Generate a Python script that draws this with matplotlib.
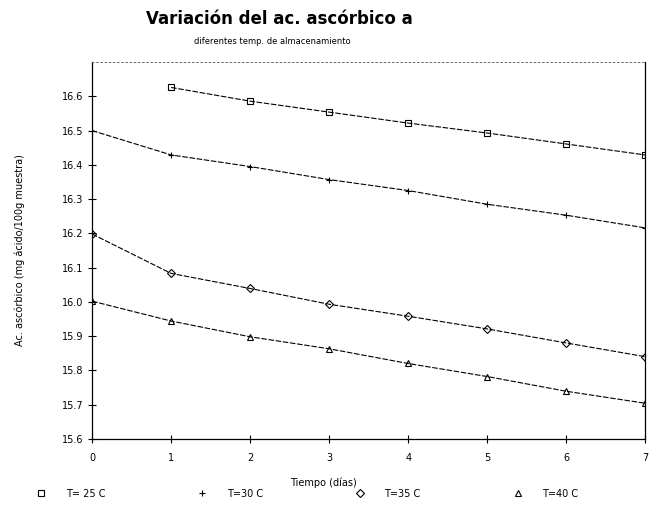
import matplotlib
matplotlib.use("Agg")
import matplotlib.pyplot as plt
from matplotlib.lines import Line2D

# ----------------------------
# Data
# ----------------------------
dias = [0, 1, 2, 3, 4, 5, 6, 7]

t25_dias = [1, 2, 3, 4, 5, 6, 7]
t25 = [16.626, 16.586, 16.554, 16.522, 16.493, 16.461, 16.429]
t30 = [16.50, 16.429, 16.395, 16.357, 16.325, 16.285, 16.253, 16.216]
t35 = [16.198, 16.083, 16.039, 15.993, 15.958, 15.921, 15.880, 15.840]
t40 = [16.002, 15.944, 15.898, 15.863, 15.820, 15.782, 15.739, 15.704]

etiquetas = ["T= 25 C", "T=30 C", "T=35 C", "T=40 C"]
marcadores = ["s", "+", "D", "^"]
y_ticks = [15.6, 15.7, 15.8, 15.9, 16.0, 16.1, 16.2, 16.3, 16.4, 16.5, 16.6]

# ----------------------------
# Figure
# ----------------------------
fig = plt.figure(figsize=(6.49, 5.05), dpi=100)
ax = fig.add_axes([0.142, 0.131, 0.852, 0.746])

series = [(t25_dias, t25), (dias, t30), (dias, t35), (dias, t40)]
for (xs, ys), m in zip(series, marcadores):
    ax.plot(xs, ys, color="black", lw=0.8, linestyle=(0, (5, 1.5)),
            marker=m, markersize=4.5, markerfacecolor="none",
            markeredgecolor="black", markeredgewidth=0.8)

ax.set_xlim(0, 7)
ax.set_ylim(15.6, 16.7)
ax.set_xticks(dias)
ax.set_yticks(y_ticks)
ax.set_yticklabels([f"{v:.1f}" for v in y_ticks])
ax.tick_params(axis="both", labelsize=7, direction="inout", length=6, width=0.8)
ax.tick_params(axis="x", pad=7)

for s in ["left", "bottom", "right"]:
    ax.spines[s].set_linewidth(0.9)
ax.spines["top"].set_linestyle((0, (2, 3)))
ax.spines["top"].set_linewidth(0.6)
ax.spines["top"].set_color("#555555")

ax.set_ylabel("Ac. ascórbico (mg ácido/100g muestra)", fontsize=7, labelpad=26)

fig.text(0.431, 0.962, "Variación del ac. ascórbico a", ha="center", va="center",
         fontsize=12, fontweight="bold")
fig.text(0.42, 0.917, "diferentes temp. de almacenamiento", ha="center",
         va="center", fontsize=6)
fig.text(0.498, 0.044, "Tiempo (días)", ha="center", va="center", fontsize=7)

handles = [Line2D([], [], color="black", linestyle="none", marker=m, markersize=4.5,
                  markerfacecolor="none", markeredgewidth=0.8) for m in marcadores]
fig.legend(handles, etiquetas, loc="center", bbox_to_anchor=(0.47, 0.022), ncol=4,
           frameon=False, fontsize=7, columnspacing=9, handletextpad=1.5)

fig.savefig("out.png", dpi=100)
